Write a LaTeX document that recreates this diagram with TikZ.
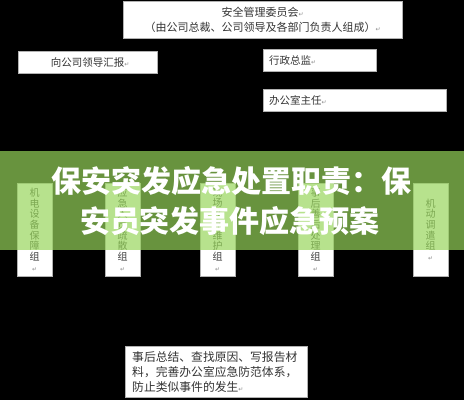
\documentclass[tikz,border=0pt]{standalone}
\usepackage{fontspec}
\newfontfamily\cjk{Noto Sans CJK SC}
\newfontfamily\dvs{DejaVu Sans}
\newcommand\rmk{{\dvs\fontsize{6}{6}\selectfont\textcolor{black!45}{↵}}}
\definecolor{bannergreen}{RGB}{151,214,90}
\tikzset{
  box/.style={draw=black!30, fill=white, line width=0.4pt, inner sep=0pt},
  txt/.style={font=\cjk\fontsize{10.5}{15}\selectfont, text=black!80},
  vbox/.style={box, anchor=north west, minimum width=35, minimum height=93, align=center,
    font=\cjk\fontsize{10}{10.7}\selectfont, text=black!75},
  bannertxt/.style={font=\cjk\bfseries\fontsize{30}{30}\selectfont, text=white, inner sep=0pt}
}
\begin{document}
\begin{tikzpicture}[x=1pt,y=-1pt]
\fill[black] (0,0) rectangle (464,400);
\useasboundingbox (0,0) rectangle (464,400);

\node[box, txt, anchor=north west, minimum width=279, minimum height=37, align=center,
  font=\cjk\fontsize{11}{15}\selectfont] (committee) at (123,1)
  {安全管理委员会\rmk\\（由公司总裁、公司领导及各部门负责人组成）\rmk};

\node[box, txt, anchor=north west, minimum width=139, minimum height=22, align=center] (report) at (18,51)
  {\hspace*{5pt}向公司领导汇报\rmk};

\node[box, txt, anchor=north west, minimum width=113, minimum height=22, text width=101,
  inner xsep=6, align=left] (director) at (263,49) {行政总监\rmk};

\node[box, txt, anchor=north west, minimum width=183, minimum height=22, text width=171,
  inner xsep=6, align=left] (office) at (263,89) {办公室主任\rmk};

\node[vbox] (g1) at (17,183)  {机\\电\\设\\备\\保\\障\\组\\\rmk};
\node[vbox] (g2) at (105,183) {应\\急\\人\\员\\疏\\散\\组\\\rmk};
\node[vbox] (g3) at (200,183) {现\\场\\秩\\序\\维\\护\\组\\\rmk};
\node[vbox] (g4) at (298,183) {事\\后\\善\\后\\处\\理\\组\\\rmk};
\node[vbox] (g5) at (413,183) {机\\动\\调\\遣\\组\\\rmk};

\node[box, txt, anchor=north west, minimum width=182, minimum height=51, text width=168,
  inner xsep=7, align=left, font=\cjk\fontsize{11.8}{15}\selectfont] (summary) at (125,346)
  {事后总结、查找原因、写报告材\\料，完善办公室应急防范体系，\\防止类似事件的发生\rmk};

\fill[bannergreen, opacity=0.69] (0,151) rectangle (464,250);
\node[bannertxt] (title1) at (232,181) {保安突发应急处置职责：保};
\node[bannertxt] (title2) at (230,221) {安员突发事件应急预案};
\end{tikzpicture}
\end{document}
